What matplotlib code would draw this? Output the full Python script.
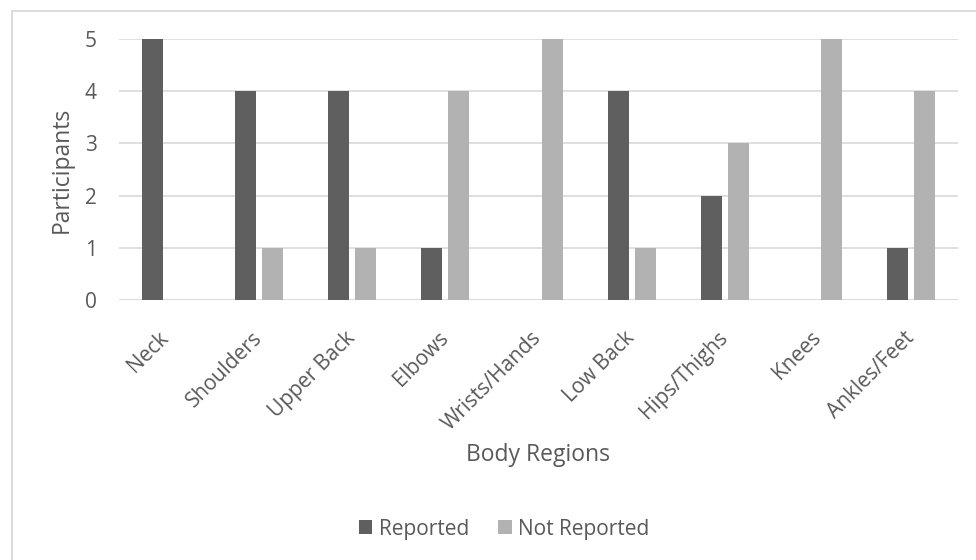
import matplotlib.pyplot as plt
import numpy as np
from matplotlib.patches import Rectangle

regions = ['Neck', 'Shoulders', 'Upper Back', 'Elbows', 'Wrists/Hands',
           'Low Back', 'Hips/Thighs', 'Knees', 'Ankles/Feet']
reported = [5, 4, 4, 1, 0, 4, 2, 0, 1]
not_reported = [0, 1, 1, 4, 5, 1, 3, 5, 4]

plt.rcParams['font.family'] = ['Open Sans', 'DejaVu Sans']
txt = '#595959'
grid = '#d9d9d9'

fig = plt.figure(figsize=(9.76, 5.6), dpi=100)
# chart frame: only the top and left edges fall inside the image
left, top = 11.5 / 976, 1 - 10.5 / 560
fig.patches.append(Rectangle((left, -0.1), 1.2, top + 0.1, transform=fig.transFigure,
                             fill=False, edgecolor=grid, linewidth=1.3))
ax = fig.add_axes([119 / 976, 1 - 300 / 560, 839 / 976, 261 / 560])

x = np.arange(len(regions))
w = 0.225
ax.bar(x - 0.145, reported, w, color='#5f5f5f', label='Reported', zorder=3)
ax.bar(x + 0.145, not_reported, w, color='#b2b2b2', label='Not Reported', zorder=3)

ax.set_xlim(-0.5, len(regions) - 0.5)
ax.set_ylim(0, 5)
ax.set_yticks(range(6))
ax.yaxis.grid(True, color=grid, linewidth=1.2, zorder=0)
for s in ax.spines.values():
    s.set_visible(False)
ax.axhline(0, color=grid, linewidth=1.2, zorder=2)
ax.tick_params(length=0, colors=txt, labelsize=15)
ax.tick_params(axis='y', pad=16)
ax.set_xticks(x)
ax.set_xticklabels(regions, rotation=45, ha='right', va='center', rotation_mode='anchor')
ax.tick_params(axis='x', pad=25)

ax.set_ylabel('Participants', color=txt, fontsize=16.5, va='center')
ax.yaxis.set_label_coords(-0.068, 0.5)
ax.set_xlabel('Body Regions', color=txt, fontsize=16.5, va='center')
ax.xaxis.set_label_coords(0.5, -0.594)

fig.legend(loc='center', bbox_to_anchor=(504 / 976, 1 - 529 / 560), ncol=2, frameon=False,
           fontsize=15, labelcolor=txt, handlelength=0.65, handleheight=0.65,
           handletextpad=0.3, columnspacing=1.4)

fig.savefig('out.png', dpi=100)
